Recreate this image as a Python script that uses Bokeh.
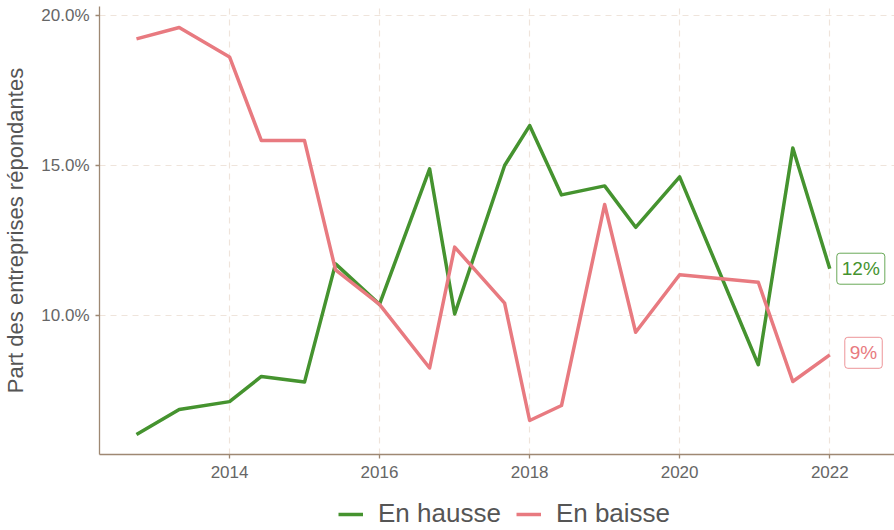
import pandas as pd
from bokeh.plotting import figure
from bokeh.layouts import column
from bokeh.models import (Range1d, FixedTicker, PrintfTickFormatter, DatetimeTickFormatter,
                          Legend, LegendItem, Label, ColumnDataSource)
from bokeh.embed import file_html
from bokeh.resources import INLINE

# ---- data ----
dates = ["2012-10-05", "2013-05-01", "2014-01-01", "2014-06-05", "2015-01-01",
         "2015-06-01", "2016-01-01", "2016-09-01", "2017-01-01", "2017-09-01",
         "2018-01-01", "2018-06-05", "2019-01-01", "2019-06-01", "2020-01-01",
         "2021-01-18", "2021-07-05", "2022-01-01"]
en_hausse = [6.03, 6.87, 7.13, 7.97, 7.78, 11.72, 10.37, 14.89, 10.05, 15.0,
             16.33, 14.02, 14.32, 12.94, 14.62, 8.36, 15.58, 11.56]
en_baisse = [19.22, 19.6, 18.62, 15.83, 15.83, 11.52, 10.37, 8.25, 12.28, 10.41,
             6.5, 7.0, 13.7, 9.44, 11.36, 11.11, 7.8, 8.69]
series_names = ["En hausse", "En baisse"]
year_ticks = [2014, 2016, 2018, 2020, 2022]
y_ticks = [10, 15, 20]

GREEN = "#45932F"
PINK = "#E87A80"
AXIS_COL = "#9E8873"
GRID_COL = "#EFE4DB"
FONT = "Liberation Sans"
LW = 3.5

x = pd.to_datetime(dates)
src = ColumnDataSource(dict(x=x, hausse=en_hausse, baisse=en_baisse))

p = figure(width=894, height=484, x_axis_type="datetime",
           output_backend="svg", toolbar_location=None,
           x_range=Range1d(pd.Timestamp("2012-04-08"), pd.Timestamp("2022-11-12")),
           y_range=Range1d(5.367, 20.3),
           min_border_left=99, min_border_right=0, min_border_top=6,
           min_border_bottom=30)
p.outline_line_color = None
p.background_fill_color = "white"
p.border_fill_color = "white"

r1 = p.line("x", "hausse", source=src, line_color=GREEN, line_width=LW, line_join="round")
r2 = p.line("x", "baisse", source=src, line_color=PINK, line_width=LW, line_join="round")

# axes
tick_ms = [pd.Timestamp(f"{y}-01-01").timestamp() * 1000 for y in year_ticks]
p.xaxis.ticker = FixedTicker(ticks=tick_ms)
p.xaxis.formatter = DatetimeTickFormatter(years="%Y", months="%Y", days="%Y",
                                          hours="%Y", minutes="%Y", seconds="%Y")
p.yaxis.ticker = FixedTicker(ticks=y_ticks)
p.yaxis.formatter = PrintfTickFormatter(format="%.1f%%")

for ax in (p.xaxis, p.yaxis):
    ax.axis_line_color = AXIS_COL
    ax.axis_line_width = 1.3
    ax.major_tick_line_color = AXIS_COL
    ax.major_tick_line_width = 1.3
    ax.major_tick_out = 4
    ax.major_tick_in = 0
    ax.minor_tick_line_color = None
    ax.major_label_text_font = FONT
    ax.major_label_text_color = "#666666"
    ax.major_label_text_font_size = "17px"

p.xaxis.major_label_standoff = 7
p.yaxis.major_label_standoff = 6
p.yaxis.axis_label = "Part des entreprises répondantes"
p.yaxis.axis_label_text_font = FONT
p.yaxis.axis_label_text_font_style = "normal"
p.yaxis.axis_label_text_font_size = "22px"
p.yaxis.axis_label_text_color = "#555555"
p.yaxis.axis_label_standoff = 10

# grid
p.grid.grid_line_color = GRID_COL
p.grid.grid_line_dash = "6 5"
p.grid.grid_line_width = 1.2

# end labels
for vals, col, dx, dy in ((en_hausse, GREEN, 7, 0), (en_baisse, PINK, 15, 2)):
    lab = Label(x=x[-1].timestamp() * 1000, y=vals[-1], text=f"{round(vals[-1])}%",
                x_offset=dx, y_offset=dy, text_baseline="middle", text_align="left",
                text_font=FONT, text_font_size="19px", text_color=col,
                padding=5, border_line_color=col, border_line_alpha=0.8,
                border_radius=3, background_fill_color="white")
    p.add_layout(lab)

# legend in a separate strip under the chart
lf = figure(width=894, height=46, output_backend="svg", toolbar_location=None,
            x_range=Range1d(0, 1), y_range=Range1d(0, 1),
            min_border_left=0, min_border_right=0, min_border_top=0,
            min_border_bottom=0)
lf.axis.visible = False
lf.grid.visible = False
lf.outline_line_color = None
lf.border_fill_color = "white"
k1 = lf.line(x=[5, 6], y=[5, 6], line_color=GREEN, line_width=LW)
k2 = lf.line(x=[5, 6], y=[5, 6], line_color=PINK, line_width=LW)
legend = Legend(items=[LegendItem(label=series_names[0], renderers=[k1]),
                       LegendItem(label=series_names[1], renderers=[k2])],
                orientation="horizontal", location=(239, 1),
                label_text_font=FONT, label_text_font_size="26px",
                label_text_color="#555555", glyph_width=25, glyph_height=28,
                label_height=28, label_standoff=15, spacing=15, padding=0,
                margin=0, border_line_color=None, background_fill_alpha=0)
lf.add_layout(legend)

layout = column(p, lf, spacing=0)
open("out.html", "w").write(file_html(layout, INLINE))
